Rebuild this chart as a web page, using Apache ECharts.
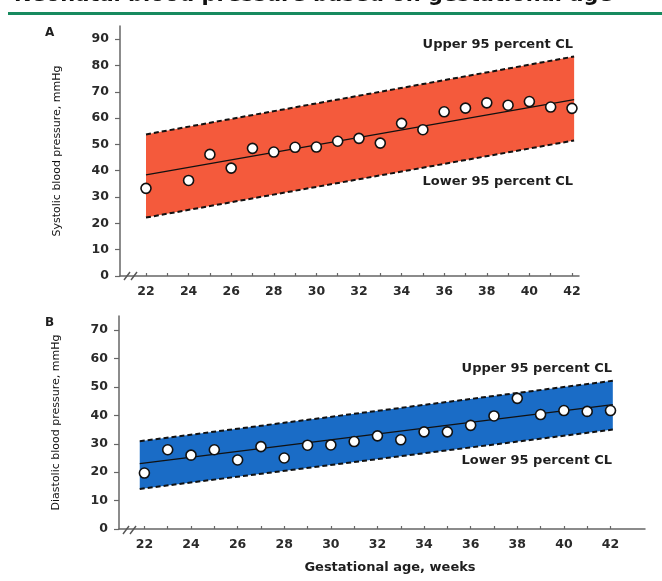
<!DOCTYPE html>
<html>
<head>
<meta charset="utf-8">
<script src="https://cdn.jsdelivr.net/npm/echarts@6/dist/echarts.min.js"></script>
<style>html,body{margin:0;padding:0;background:#fff;}#c{width:662px;height:581px;}</style>
</head>
<body>
<div id="c"></div>
<script>
// ---- Data ----
const weeksA = [22, 24, 25, 26, 27, 28, 29, 30, 31, 32, 33, 34, 35, 36, 37, 38, 39, 40, 41, 42];
const systolic = [33.3, 36.3, 46.2, 41.0, 48.5, 47.1, 48.9, 49.0, 51.2, 52.3, 50.5, 58.0, 55.6, 62.4, 63.8, 65.8, 64.9, 66.3, 64.2, 63.7];
const weeksB = [22, 23, 24, 25, 26, 27, 28, 29, 30, 31, 32, 33, 34, 35, 36, 37, 38, 39, 40, 41, 42];
const diastolic = [19.7, 27.9, 26.0, 27.9, 24.3, 29.0, 25.0, 29.5, 29.6, 30.8, 32.8, 31.4, 34.2, 34.2, 36.5, 39.8, 46.0, 40.3, 41.7, 41.4, 41.7];

const bandXA = [22.0, 42.1];
const fitA = [38.4, 67.0];
const upperA = [53.8, 83.4];
const lowerA = [22.2, 51.5];

const bandXB = [21.8, 42.1];
const fitB = [23.0, 43.8];
const upperB = [30.9, 52.2];
const lowerB = [14.1, 35.0];

const xTickValues = [22, 23, 24, 25, 26, 27, 28, 29, 30, 31, 32, 33, 34, 35, 36, 37, 38, 39, 40, 41, 42];
const xLabelValues = [22, 24, 26, 28, 30, 32, 34, 36, 38, 40, 42];
const yLabelsA = [0, 10, 20, 30, 40, 50, 60, 70, 80, 90];
const yLabelsB = [0, 10, 20, 30, 40, 50, 60, 70];

const titleText = 'Neonatal blood pressure based on gestational age';
const yNameA = 'Systolic blood pressure, mmHg';
const yNameB = 'Diastolic blood pressure, mmHg';
const xName = 'Gestational age, weeks';
const upperLabel = 'Upper 95 percent CL';
const lowerLabel = 'Lower 95 percent CL';

// ---- Chart ----
const FONT = '"DejaVu Sans", Verdana, sans-serif';
const AXIS_COLOR = '#666';
const LABEL_COLOR = '#2a2a2a';

function pairs(xs, ys) { return xs.map((x, i) => [x, ys[i]]); }

function bandSeries(idx, xs, lo, hi, color) {
  return {
    type: 'custom', xAxisIndex: idx, yAxisIndex: idx, silent: true, z: 1,
    data: [[xs[0], lo[0], hi[0], xs[1], lo[1], hi[1]]],
    renderItem: function (params, api) {
      const p1 = api.coord([api.value(0), api.value(1)]);
      const p2 = api.coord([api.value(3), api.value(4)]);
      const p3 = api.coord([api.value(3), api.value(5)]);
      const p4 = api.coord([api.value(0), api.value(2)]);
      return { type: 'polygon', shape: { points: [p1, p2, p3, p4] }, style: { fill: color } };
    }
  };
}
function lineSeries(idx, xs, ys, dashed) {
  return {
    type: 'line', xAxisIndex: idx, yAxisIndex: idx, data: pairs(xs, ys), symbol: 'none', silent: true, z: 3,
    lineStyle: dashed ? { color: '#111', width: 2, type: [5, 3] } : { color: '#111', width: 1.2 }
  };
}
function scatterSeries(idx, xs, ys) {
  return {
    type: 'scatter', xAxisIndex: idx, yAxisIndex: idx, data: pairs(xs, ys), symbol: 'circle', symbolSize: 10, z: 5,
    itemStyle: { color: '#fff', borderColor: '#111', borderWidth: 1.6, opacity: 1 }
  };
}
function xAxisDef(idx, min, max) {
  return {
    type: 'value', gridIndex: idx, min: min, max: max,
    axisLine: { show: true, onZero: false, lineStyle: { color: AXIS_COLOR, width: 1.5 } },
    axisTick: { show: true, inside: true, length: 3, customValues: xTickValues, lineStyle: { color: AXIS_COLOR, width: 1.2 } },
    axisLabel: { customValues: xLabelValues, margin: 9, color: LABEL_COLOR, fontFamily: FONT, fontWeight: 'bold', fontSize: 12.5 },
    splitLine: { show: false }
  };
}
function yAxisDef(idx, max, labels, name) {
  return {
    type: 'value', gridIndex: idx, min: 0, max: max,
    name: name, nameLocation: 'middle', nameRotate: 90, nameGap: 57,
    nameTextStyle: { fontFamily: FONT, fontSize: 11, color: '#111' },
    axisLine: { show: true, onZero: false, lineStyle: { color: AXIS_COLOR, width: 1.5 } },
    axisTick: { show: true, length: 5, customValues: labels, lineStyle: { color: AXIS_COLOR, width: 1.2 } },
    axisLabel: { customValues: labels, margin: 11, color: LABEL_COLOR, fontFamily: FONT, fontWeight: 'bold', fontSize: 12.5 },
    splitLine: { show: false }
  };
}
function breakMark(x, y) {
  return [
    { type: 'line', shape: { x1: x, y1: y + 4, x2: x + 6, y2: y - 4 }, style: { stroke: '#555', lineWidth: 1.4 }, z: 10 },
    { type: 'line', shape: { x1: x + 7, y1: y + 4, x2: x + 13, y2: y - 4 }, style: { stroke: '#555', lineWidth: 1.4 }, z: 10 }
  ];
}
function txt(x, y, s, size, weight, align) {
  return { type: 'text', x: x, y: y, z: 10, style: { text: s, fill: '#1e1e1e', font: (weight || 'bold') + ' ' + size + 'px ' + FONT, align: align || 'left', verticalAlign: 'middle' } };
}

const chart = echarts.init(document.getElementById('c'), null, { renderer: 'canvas' });
chart.setOption({
  animation: false,
  backgroundColor: '#fff',
  grid: [
    { left: 120, right: 83, top: 26, bottom: 305 },
    { left: 119, right: 17, top: 316, bottom: 52 }
  ],
  xAxis: [xAxisDef(0, 20.78, 42.33), xAxisDef(1, 20.91, 43.48)],
  yAxis: [yAxisDef(0, 95, yLabelsA, yNameA), yAxisDef(1, 75, yLabelsB, yNameB)],
  series: [
    bandSeries(0, bandXA, lowerA, upperA, '#f45a3c'),
    lineSeries(0, bandXA, upperA, true),
    lineSeries(0, bandXA, lowerA, true),
    lineSeries(0, bandXA, fitA, false),
    scatterSeries(0, weeksA, systolic),
    bandSeries(1, bandXB, lowerB, upperB, '#1a6cc6'),
    lineSeries(1, bandXB, upperB, true),
    lineSeries(1, bandXB, lowerB, true),
    lineSeries(1, bandXB, fitB, false),
    scatterSeries(1, weeksB, diastolic)
  ],
  graphic: [
    { type: 'text', x: 14, y: 6.5, z: 10, style: { text: titleText, fill: '#111', font: 'bold 21px ' + FONT, verticalAlign: 'bottom' } },
    { type: 'rect', shape: { x: 8, y: 12, width: 654, height: 3 }, style: { fill: '#178a5f' }, z: 10 },
    txt(45, 33, 'A', 12),
    txt(45, 323, 'B', 12),
    txt(573, 45, upperLabel, 13, 'bold', 'right'),
    txt(573, 182, lowerLabel, 13, 'bold', 'right'),
    txt(612, 369, upperLabel, 13, 'bold', 'right'),
    txt(612, 461, lowerLabel, 13, 'bold', 'right'),
    txt(390, 568, xName, 13, 'bold', 'center'),
    ...breakMark(124, 276),
    ...breakMark(123, 530)
  ]
});
</script>
</body>
</html>
